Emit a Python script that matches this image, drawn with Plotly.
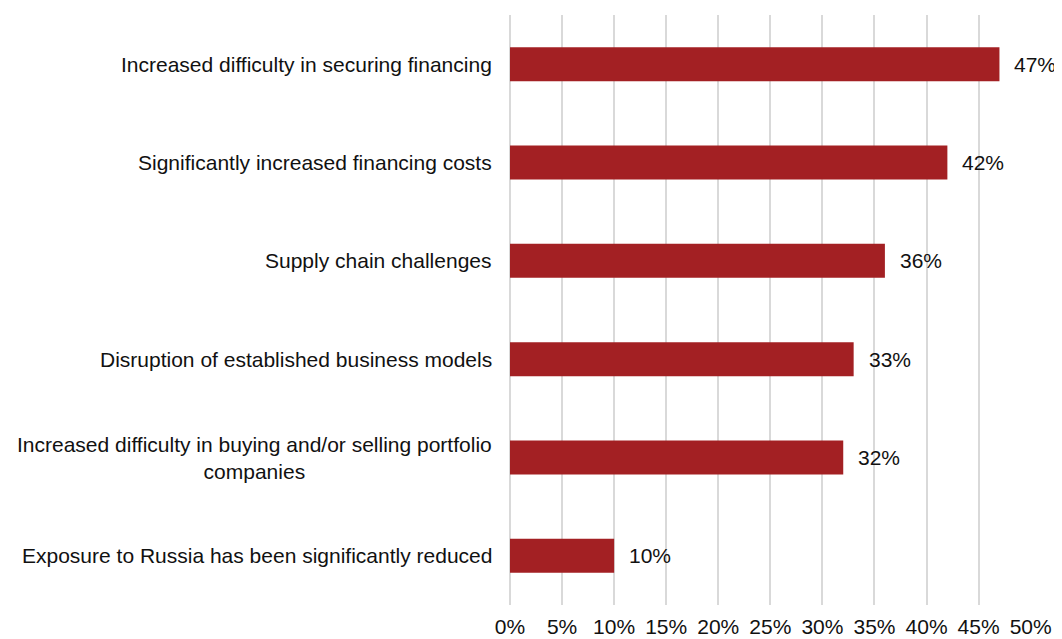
import plotly.graph_objects as go

categories = [
    "Increased difficulty in securing financing",
    "Significantly increased financing costs",
    "Supply chain challenges",
    "Disruption of established business models",
    "Increased difficulty in buying and/or selling portfolio<br>companies",
    "Exposure to Russia has been significantly reduced",
]
values = [47, 42, 36, 33, 32, 10]
tick_vals = [0, 5, 10, 15, 20, 25, 30, 35, 40, 45, 50]
tick_text = [f"{v}%" for v in tick_vals]

font_family = "Liberation Sans, Arial, sans-serif"
bar_color = "#A32023"
text_color = "#111111"
fsize = 21

fig = go.Figure(go.Bar(
    x=values,
    y=categories,
    orientation="h",
    marker=dict(color=bar_color, line=dict(width=0)),
    hoverinfo="skip",
))

annotations = []
for c, v in zip(categories, values):
    annotations.append(dict(
        x=v, y=c, xref="x", yref="y", text=f"{v}%", showarrow=False,
        xanchor="left", xshift=13, font=dict(size=fsize, color=text_color, family=font_family),
    ))
    annotations.append(dict(
        x=0, y=c, xref="paper", yref="y", text=c, showarrow=False,
        xanchor="right", align="center", xshift=-16,
        font=dict(size=fsize, color=text_color, family=font_family),
    ))

fig.update_layout(
    width=1054, height=631,
    margin=dict(l=502, r=31, t=7, b=34, autoexpand=False),
    paper_bgcolor="white", plot_bgcolor="white",
    bargap=0.654,
    showlegend=False,
    font=dict(family=font_family, size=fsize, color=text_color),
    annotations=annotations,
    xaxis=dict(
        range=[0, 50.03],
        tickmode="array", tickvals=tick_vals, ticktext=tick_text,
        showgrid=True, gridcolor="#d9d9d9", gridwidth=1.5,
        zeroline=True, zerolinecolor="#d9d9d9", zerolinewidth=1.5,
        showline=False, ticks="", ticklabelstandoff=7,
        automargin=False,
        tickfont=dict(size=fsize, color=text_color, family=font_family),
        fixedrange=True,
    ),
    yaxis=dict(
        autorange="reversed", showticklabels=False, showgrid=False,
        zeroline=False, showline=False, ticks="", fixedrange=True,
        automargin=False,
    ),
)

fig.write_html("out.html")
